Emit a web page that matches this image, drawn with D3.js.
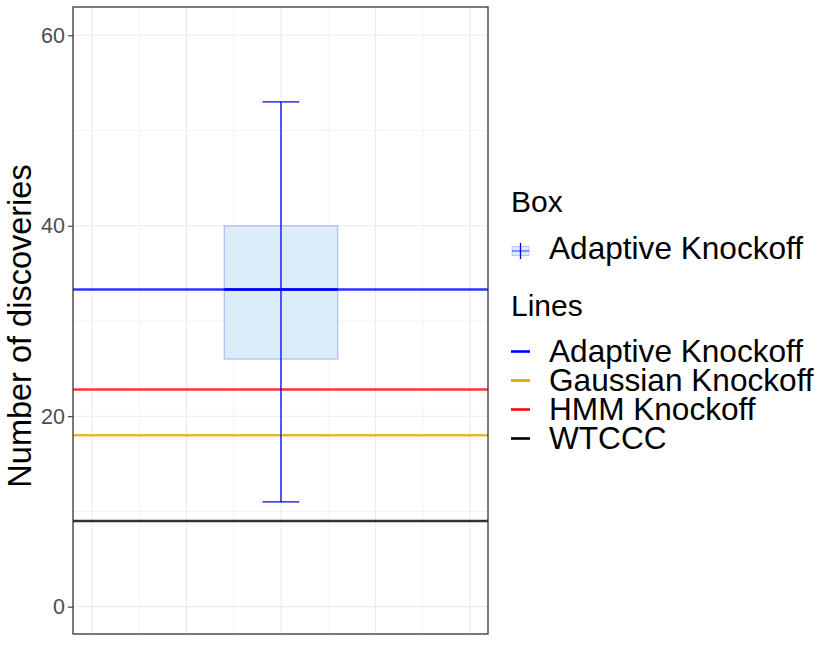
<!DOCTYPE html>
<html>
<head>
<meta charset="utf-8">
<script src="https://cdn.jsdelivr.net/npm/d3@7"></script>
<style>
  body { margin: 0; background: #fff; }
  text { font-family: "Liberation Sans", Arial, sans-serif; }
</style>
</head>
<body>
<div id="chart"></div>
<script>
// box summary (whisker low, q1, median, q3, whisker high)
var boxNames = ["Adaptive Knockoff"];
var boxStats = [11, 26, 33.3, 40, 53];

// reference lines
var lineNames = ["Adaptive Knockoff", "Gaussian Knockoff", "HMM Knockoff", "WTCCC"];
var lineValues = [33.3, 18, 22.8, 9];
var lineColors = ["#0000ff", "#e69f00", "#ff0000", "#000000"];

var yTicks = [0, 20, 40, 60];
var yMinor = [10, 30, 50];
var xMajor = [-0.4, -0.2, 0, 0.2, 0.4];
var xMinor = [-0.3, -0.1, 0.1, 0.3];

var width = 830, height = 646;
var margin = {top: 7, right: 342, bottom: 12, left: 73};
var pw = width - margin.left - margin.right,
    ph = height - margin.top - margin.bottom;

var svg = d3.select("#chart").append("svg")
    .attr("width", width)
    .attr("height", height);

var x = d3.scaleLinear().domain([-0.44, 0.438]).range([0, pw]);
var y = d3.scaleLinear().domain([-2.87, 62.97]).range([ph, 0]);

var g = svg.append("g")
    .attr("transform", "translate(" + margin.left + "," + margin.top + ")");

// grid
g.selectAll(".ymin").data(yMinor).enter().append("line")
    .attr("x1", 0).attr("x2", pw)
    .attr("y1", function(d) { return y(d); }).attr("y2", function(d) { return y(d); })
    .attr("stroke", "#ebebeb").attr("stroke-width", 0.6);
g.selectAll(".xmin").data(xMinor).enter().append("line")
    .attr("y1", 0).attr("y2", ph)
    .attr("x1", function(d) { return x(d); }).attr("x2", function(d) { return x(d); })
    .attr("stroke", "#ebebeb").attr("stroke-width", 0.6);
g.selectAll(".ymaj").data(yTicks).enter().append("line")
    .attr("x1", 0).attr("x2", pw)
    .attr("y1", function(d) { return y(d); }).attr("y2", function(d) { return y(d); })
    .attr("stroke", "#ebebeb").attr("stroke-width", 1.1);
g.selectAll(".xmaj").data(xMajor).enter().append("line")
    .attr("y1", 0).attr("y2", ph)
    .attr("x1", function(d) { return x(d); }).attr("x2", function(d) { return x(d); })
    .attr("stroke", "#ebebeb").attr("stroke-width", 1.1);

// box
var bw = 0.12, cw = 0.039;
g.append("rect")
    .attr("x", x(-bw)).attr("width", x(bw) - x(-bw))
    .attr("y", y(boxStats[3])).attr("height", y(boxStats[1]) - y(boxStats[3]))
    .attr("fill", "#dcedfa")
    .attr("stroke", "#0000ff").attr("stroke-opacity", 0.2).attr("stroke-width", 1.5);

// horizontal reference lines
g.selectAll(".hline").data(lineValues).enter().append("line")
    .attr("x1", 0).attr("x2", pw)
    .attr("y1", function(d) { return y(d); }).attr("y2", function(d) { return y(d); })
    .attr("stroke", function(d, i) { return lineColors[i]; })
    .attr("stroke-opacity", 0.8)
    .attr("stroke-width", 2.4);

// median
g.append("line")
    .attr("x1", x(-bw)).attr("x2", x(bw))
    .attr("y1", y(boxStats[2])).attr("y2", y(boxStats[2]))
    .attr("stroke", "#0000ff").attr("stroke-width", 2.4);

// whiskers
g.append("line")
    .attr("x1", x(0)).attr("x2", x(0))
    .attr("y1", y(boxStats[0])).attr("y2", y(boxStats[4]))
    .attr("stroke", "#0000ff").attr("stroke-width", 1.3);
g.selectAll(".cap").data([boxStats[0], boxStats[4]]).enter().append("line")
    .attr("x1", x(-cw)).attr("x2", x(cw))
    .attr("y1", function(d) { return y(d); }).attr("y2", function(d) { return y(d); })
    .attr("stroke", "#0000ff").attr("stroke-width", 1.3);

// panel border
g.append("rect")
    .attr("width", pw).attr("height", ph)
    .attr("fill", "none").attr("stroke", "#333").attr("stroke-width", 1.3);

// y axis
var yAxis = g.append("g")
    .call(d3.axisLeft(y).tickValues(yTicks).tickSize(5).tickPadding(3));
yAxis.select(".domain").remove();
yAxis.selectAll(".tick line").attr("stroke", "#333").attr("stroke-width", 1.1);
yAxis.selectAll(".tick text")
    .attr("fill", "#4d4d4d")
    .style("font-size", "21.5px")
    .style("font-family", "Liberation Sans, Arial, sans-serif");

svg.append("text")
    .attr("transform", "translate(31,326) rotate(-90)")
    .attr("text-anchor", "middle")
    .style("font-size", "32.5px")
    .text("Number of discoveries");

// legend
var lx = 511;
var leg = svg.append("g");
leg.append("text").attr("x", lx).attr("y", 211.5).style("font-size", "30px").text("Box");

var bk = leg.append("g").attr("transform", "translate(" + lx + ",251)");
bk.append("rect").attr("x", 1).attr("y", -4.5).attr("width", 17).attr("height", 9)
    .attr("fill", "#dcedfa").attr("stroke", "#0000ff").attr("stroke-opacity", 0.2);
bk.append("line").attr("x1", 9.5).attr("x2", 9.5).attr("y1", -8).attr("y2", 8)
    .attr("stroke", "#0000ff").attr("stroke-width", 1.3);
bk.append("line").attr("x1", 1).attr("x2", 18).attr("y1", 0).attr("y2", 0)
    .attr("stroke", "#0000ff").attr("stroke-opacity", 0.6).attr("stroke-width", 1.3);
leg.append("text").attr("x", 549).attr("y", 259).style("font-size", "31.6px").text(boxNames[0]);

leg.append("text").attr("x", lx).attr("y", 316).style("font-size", "30px").text("Lines");

var items = leg.selectAll(".item").data(lineNames).enter().append("g")
    .attr("transform", function(d, i) { return "translate(0," + (362 + i * 29) + ")"; });
items.append("line")
    .attr("x1", lx).attr("x2", lx + 19).attr("y1", -10.5).attr("y2", -10.5)
    .attr("stroke", function(d, i) { return lineColors[i]; })
    .attr("stroke-width", 2.6);
items.append("text").attr("x", 549).attr("y", 0).style("font-size", "31.6px")
    .text(function(d) { return d; });
</script>
</body>
</html>
